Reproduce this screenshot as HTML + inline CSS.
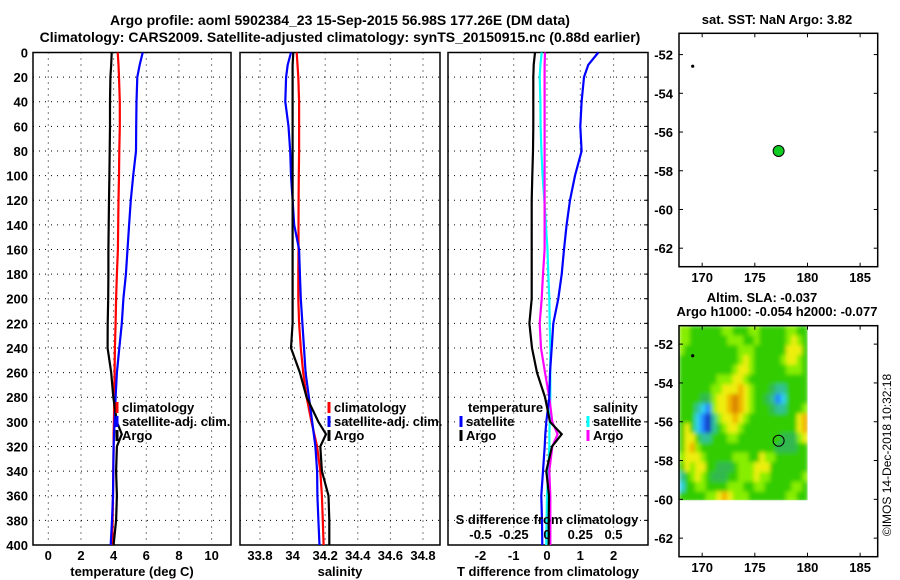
<!DOCTYPE html>
<html><head><meta charset="utf-8">
<style>
body{margin:0;background:#fff;}
svg{display:block;font-family:"Liberation Sans",sans-serif;font-weight:bold;}
text{font-size:13px;fill:#000;}
</style></head>
<body>
<svg id="c" width="900" height="580" viewBox="0 0 900 580">
<defs>
<filter id="blur" filterUnits="userSpaceOnUse" x="679" y="325.7" width="128.6" height="174.6">
<feGaussianBlur stdDeviation="2" edgeMode="duplicate"/>
</filter>
<clipPath id="hmclip"><rect x="679" y="325.7" width="128.6" height="174.6"/></clipPath>
</defs>
<text x="340" y="25" text-anchor="middle" style="font-size:14px">Argo profile: aoml 5902384_23 15-Sep-2015 56.98S 177.26E (DM data)</text>
<text x="340" y="42" text-anchor="middle" style="font-size:14px">Climatology: CARS2009. Satellite-adjusted climatology: synTS_20150915.nc (0.88d earlier)</text>
<text x="777" y="24" text-anchor="middle">sat. SST: NaN Argo: 3.82</text>
<text x="762" y="302" text-anchor="middle">Altim. SLA: -0.037</text>
<text x="777" y="316" text-anchor="middle">Argo h1000: -0.054 h2000: -0.077</text>
<text transform="translate(891,455) rotate(-90)" text-anchor="middle" style="font-weight:normal;font-size:12px">©IMOS 14-Dec-2018 10:32:18</text>
</svg>
<script>
const depths=[0,10,20,40,60,80,100,120,140,160,180,200,220,240,260,280,300,310,320,340,360,380,400];
const tArgo=[3.88,3.85,3.80,3.78,3.78,3.76,3.74,3.72,3.70,3.68,3.68,3.67,3.64,3.63,3.85,3.98,4.2,4.5,4.2,4.15,4.2,4.15,4.0];
const tClim=[4.25,4.3,4.33,4.38,4.38,4.35,4.33,4.30,4.28,4.26,4.2,4.15,4.12,4.08,4.06,4.04,4.02,4.0,4.0,3.98,3.96,3.94,3.92];
const tSat=[5.78,5.6,5.45,5.4,5.38,5.37,5.2,5.05,4.95,4.85,4.75,4.6,4.5,4.35,4.2,4.12,4.06,4.03,4.0,3.98,3.96,3.9,3.82];
const sArgo=[34.004,34.0,34.0,34.0,34.0,34.0,34.0,34.0,34.0,34.0,34.0,34.0,34.0,33.99,34.045,34.086,34.158,34.205,34.17,34.18,34.22,34.225,34.225];
const sClim=[34.025,34.03,34.035,34.04,34.04,34.04,34.038,34.037,34.036,34.036,34.035,34.035,34.04,34.05,34.065,34.086,34.116,34.133,34.15,34.17,34.18,34.185,34.19];
const sSat=[33.99,33.97,33.96,33.955,33.975,33.985,33.99,34.0,34.01,34.04,34.045,34.05,34.06,34.07,34.08,34.1,34.12,34.13,34.14,34.15,34.152,34.158,34.165];
const dTArgo=[-0.36,-0.4,-0.41,-0.41,-0.41,-0.42,-0.44,-0.46,-0.46,-0.46,-0.46,-0.46,-0.53,-0.45,-0.30,-0.06,0.09,0.44,0.15,-0.02,0.06,0.05,0.05];
const dTSat=[1.54,1.24,1.11,1.04,1.0,1.04,0.84,0.69,0.59,0.51,0.44,0.34,0.19,0.14,0.09,0.07,-0.02,-0.05,-0.07,-0.12,-0.17,-0.15,-0.14];
const dSSat=[-0.04,-0.05,-0.055,-0.05,-0.048,-0.042,-0.033,-0.02,-0.008,0.004,0.01,0.017,0.02,0.025,0.025,0.025,0.02,0.018,0.017,0.01,0.0,-0.003,-0.005];
const dSArgo=[-0.015,-0.018,-0.018,-0.018,-0.018,-0.018,-0.018,-0.018,-0.018,-0.018,-0.03,-0.04,-0.055,-0.045,-0.015,0.017,0.04,0.08,0.04,0.017,0.025,0.025,0.025];
const tTicks=[0,2,4,6,8,10];
const sTicks=[33.8,34,34.2,34.4,34.6,34.8];
const dtTicks=[-2,-1,0,1,2];
const dsTicks=[-0.5,-0.25,0,0.25,0.5];
const dsTickLabels=["-0.5","-0.25","0","0.25","0.5"];
const depthTicks=[0,20,40,60,80,100,120,140,160,180,200,220,240,260,280,300,320,340,360,380,400];
const latTicks=[-52,-54,-56,-58,-60,-62];
const lonTicks=[170,175,180,185];
const floatLon=[177.26], floatLat=[-56.98];
const markLon=[169.1], markLat=[-52.6];
const slaRows=[
"665555556655566555556655",
"665555555666556555556765",
"655555555556665555557775",
"555555555556765555567765",
"555555555567765555556665",
"555555566677655555555555",
"555555667778765554335555",
"555544677898765543125555",
"555321677898765554335556",
"555210367787655555555578",
"575210356776555555555578",
"577533555665555555544467",
"578655555555555555444455",
"677765555566655766555555",
"576775544456667775555555",
"356765444556667665555556",
"255665555666556655555665",
"555556678766655555556655"];
const slaColors=["#1020c0","#2080ff","#30d0f0","#30c098","#30b850","#33cc00","#88ee00","#eeee10","#f0b000","#d88000"];

const svg=document.getElementById('c');
const NS='http://www.w3.org/2000/svg';
function mk(tag,attrs,parent){const e=document.createElementNS(NS,tag);for(const k in attrs)e.setAttribute(k,attrs[k]);(parent||svg).appendChild(e);return e;}
const yD=d=>52.5+d*1.2312;
function panel(name,x0,x1,xs,ticks,labels,showY,title){
  const g=mk('g',{});
  
  
  ticks.forEach((t,i)=>{
    const x=xs(t);
    const l=mk('line',{x1:x,x2:x,y1:52.5,y2:545,stroke:'#000','stroke-dasharray':'1,5','stroke-width':1},g);
    
    
    const tx=mk('text',{x:x,y:560,'text-anchor':'middle'},g);tx.textContent=labels[i];
    
    
  });
  depthTicks.forEach(d=>{
    const y=yD(d);
    if(d>0&&d<400){const l=mk('line',{x1:x0,x2:x1,y1:y,y2:y,stroke:'#000','stroke-dasharray':'1,5','stroke-width':1},g);
    
    }
    if(showY){const tx=mk('text',{x:28,y:y+5,'text-anchor':'end'},g);tx.textContent=d;
    
    }
  });
  const r=mk('rect',{x:x0,y:52.5,width:x1-x0,height:492.5,fill:'none',stroke:'#000','stroke-width':1.5},g);
  
  
  const tt=mk('text',{x:(x0+x1)/2,y:576,'text-anchor':'middle'},g);tt.textContent=title;
  
  
  return g;
}
function line(g,vals,xs,color,name){
  let p='';vals.forEach((v,i)=>{p+=(i?'L':'M')+xs(v).toFixed(1)+','+yD(depths[i]).toFixed(1);});
  const e=mk('path',{d:p,fill:'none',stroke:color,'stroke-width':2.2},g);
  
  
}
function legend(g,x,y,color,label,name){
  const m=mk('line',{x1:x,x2:x,y1:y-10,y2:y+1,stroke:color,'stroke-width':3},g);
  
  
  const t=mk('text',{x:x+5,y:y},g);t.textContent=label;
  
  
}
const xT=v=>48.3+v*16.33;
const g1=panel('temperature-panel',33,231,xT,tTicks,tTicks.map(String),true,'temperature (deg C)');
line(g1,tClim,xT,'#ff0000','temp-climatology-line');
line(g1,tSat,xT,'#0000ff','temp-satellite-line');
line(g1,tArgo,xT,'#000','temp-argo-line');
legend(g1,117,412,'#ff0000','climatology','legend-climatology');
legend(g1,117,426,'#0000ff','satellite-adj. clim.','legend-satellite');
legend(g1,117,440,'#000','Argo','legend-argo');
const xS=v=>260+(v-33.8)*163;
const g2=panel('salinity-panel',240,440,xS,sTicks,sTicks.map(String),false,'salinity');
line(g2,sClim,xS,'#ff0000','sal-climatology-line');
line(g2,sSat,xS,'#0000ff','sal-satellite-line');
line(g2,sArgo,xS,'#000','sal-argo-line');
legend(g2,329,412,'#ff0000','climatology','legend-climatology');
legend(g2,329,426,'#0000ff','satellite-adj. clim.','legend-satellite');
legend(g2,329,440,'#000','Argo','legend-argo');
const xDT=v=>547+v*33.3;
const xDS=v=>547+v*133;
const g3=panel('difference-panel',448,648,xDT,dtTicks,dtTicks.map(String),false,'T difference from climatology');
depthTicks.forEach(d=>{mk('line',{x1:644,x2:648,y1:yD(d),y2:yD(d),stroke:'#000'},g3);});
line(g3,dSSat,xDS,'#00ffff','sdiff-satellite-line');
line(g3,dSArgo,xDS,'#ff00ff','sdiff-argo-line');
line(g3,dTSat,xDT,'#0000ff','tdiff-satellite-line');
line(g3,dTArgo,xDT,'#000','tdiff-argo-line');
{const t=mk('text',{x:468,y:412},g3);t.textContent='temperature';

}
legend(g3,461,426,'#0000ff','satellite','legend-t-satellite');
legend(g3,461,440,'#000','Argo','legend-t-argo');
{const t=mk('text',{x:593,y:412},g3);t.textContent='salinity';

}
legend(g3,588,426,'#00ffff','satellite','legend-s-satellite');
legend(g3,588,440,'#ff00ff','Argo','legend-s-argo');
{const t=mk('text',{x:547,y:524,'text-anchor':'middle'},g3);t.textContent='S difference from climatology';

}
dsTicks.forEach((v,i)=>{const t=mk('text',{x:xDS(v),y:539,'text-anchor':'middle'},g3);t.textContent=dsTickLabels[i];

});

const lonX=v=>679+(v-167.8)*10.53;
function map(name,top,bottom,latTop,pxPerDeg){
  const latY=v=>top+(latTop-v)*pxPerDeg;
  const g=mk('g',{});
  
  
  return {g,latY};
}
const m1=map('sst-map',33.3,266.7,-50.9,19.36);
const m2=map('sla-map',325.7,556.7,-51.05,19.4);
const hmOuter=mk('g',{'clip-path':'url(#hmclip)'},m2.g);


const hm=mk('g',{filter:'url(#blur)'},hmOuter);
const cellW=(lonX(180)-679)/24, cellH=(m2.latY(-60.1)-325.7)/18;
slaRows.forEach((row,r)=>{[...row].forEach((ch,c)=>{
  const e=mk('rect',{x:(679+c*cellW).toFixed(2),y:(325.7+r*cellH).toFixed(2),width:(cellW+0.6).toFixed(2),height:(cellH+0.6).toFixed(2),fill:slaColors[+ch]},hm);
  
  
});});
[[m1,33.3,266.7,282],[m2,325.7,556.7,572]].forEach(([m,top,bot,ly])=>{
  const r=mk('rect',{x:679,y:top,width:198.7,height:bot-top,fill:'none',stroke:'#000','stroke-width':1.5},m.g);
  
  
  latTicks.forEach(v=>{const y=m.latY(v);
    mk('line',{x1:679,x2:683,y1:y,y2:y,stroke:'#000'},m.g);
    mk('line',{x1:873.7,x2:877.7,y1:y,y2:y,stroke:'#000'},m.g);
    const t=mk('text',{x:673,y:y+5,'text-anchor':'end'},m.g);t.textContent=v;
    
    });
  lonTicks.forEach(v=>{const x=lonX(v);
    mk('line',{x1:x,x2:x,y1:top,y2:top+4,stroke:'#000'},m.g);
    mk('line',{x1:x,x2:x,y1:bot-4,y2:bot,stroke:'#000'},m.g);
    const t=mk('text',{x:x,y:ly,'text-anchor':'middle'},m.g);t.textContent=v;
    
    });
  const d=mk('circle',{cx:lonX(markLon[0]),cy:m.latY(markLat[0]),r:1.6,fill:'#000'},m.g);
  
  
});
{const c=mk('circle',{cx:lonX(floatLon[0]),cy:m1.latY(floatLat[0]),r:5.5,fill:'#11cc22',stroke:'#000','stroke-width':1},m1.g);

}
{const c=mk('circle',{cx:lonX(floatLon[0]),cy:m2.latY(floatLat[0]),r:5.5,fill:'none',stroke:'#000','stroke-width':1},m2.g);

}
</script>
</body></html>
